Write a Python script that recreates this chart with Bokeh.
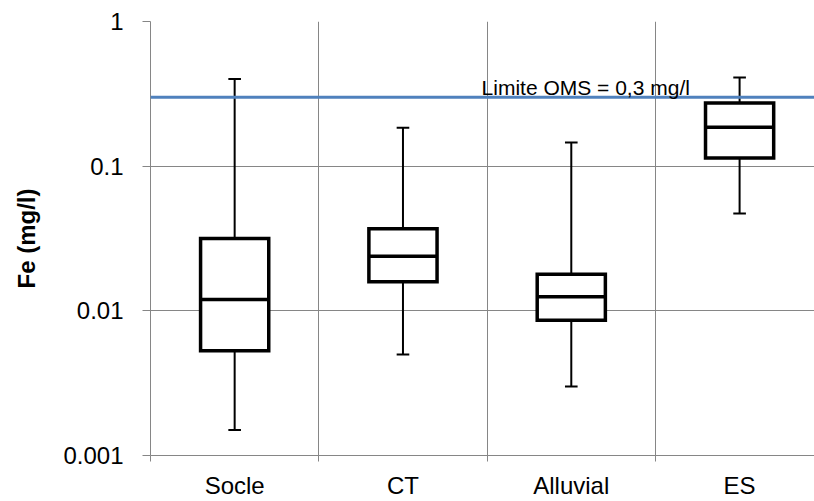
import numpy as np
from bokeh.plotting import figure
from bokeh.models import FixedTicker, Span, Label, Range1d
from bokeh.embed import file_html
from bokeh.resources import INLINE

# ---- data ----
categories = ["Socle", "CT", "Alluvial", "ES"]
whisker_low = [0.0015, 0.0050, 0.0030, 0.047]
q1 = [0.0053, 0.0159, 0.0086, 0.114]
median = [0.0120, 0.0238, 0.0125, 0.186]
q3 = [0.0316, 0.0370, 0.0179, 0.273]
whisker_high = [0.40, 0.184, 0.146, 0.41]
limit_value = 0.3
limit_text = "Limite OMS = 0,3 mg/l"
y_ticks = [0.001, 0.01, 0.1, 1]
y_tick_labels = ["0.001", "0.01", "0.1", "1"]
y_title = "Fe (mg/l)"

FONT = "Liberation Sans"
GRID = "#868686"

xpos = np.arange(len(categories)) + 0.5
box_w = 0.405
cap_w = 0.075

p = figure(width=814, height=501, y_axis_type="log",
           x_range=Range1d(0, 3.945), y_range=Range1d(0.001, 1),
           output_backend="svg", toolbar_location=None,
           min_border_left=150, min_border_right=0,
           min_border_top=21, min_border_bottom=44)
p.outline_line_color = None
p.background_fill_color = "white"

# x axis: labels at category centres, tick marks at boundaries
xa = p.xaxis[0]
xa.ticker = FixedTicker(ticks=list(xpos), minor_ticks=list(range(len(categories) + 1)))
xa.major_label_overrides = {float(x): c for x, c in zip(xpos, categories)}
xa.major_tick_line_color = None
xa.major_tick_out = 0
xa.major_tick_in = 0
xa.minor_tick_line_color = GRID
xa.minor_tick_out = 6
xa.minor_tick_in = 0
xa.minor_tick_line_width = 1
xa.axis_line_color = GRID
xa.axis_line_width = 1
xa.major_label_text_font = FONT
xa.major_label_text_font_size = "24px"
xa.major_label_text_color = "black"
xa.major_label_standoff = 10

p.xgrid.ticker = FixedTicker(ticks=list(range(len(categories) + 1)))
p.xgrid.grid_line_color = GRID
p.xgrid.grid_line_width = 1

ya = p.yaxis[0]
ya.ticker = FixedTicker(ticks=y_ticks)
ya.major_label_overrides = {float(t): l for t, l in zip(y_ticks, y_tick_labels)}
ya.major_tick_line_color = GRID
ya.major_tick_out = 8
ya.major_tick_in = 0
ya.minor_tick_line_color = None
ya.axis_line_color = GRID
ya.axis_line_width = 1
ya.major_label_text_font = FONT
ya.major_label_text_font_size = "24px"
ya.major_label_text_color = "black"
ya.major_label_standoff = 19
ya.axis_label = y_title
ya.axis_label_text_font = FONT
ya.axis_label_text_font_size = "24px"
ya.axis_label_text_font_style = "bold"
ya.axis_label_text_color = "black"
ya.axis_label_standoff = 20

p.ygrid.ticker = FixedTicker(ticks=y_ticks)
p.ygrid.grid_line_color = GRID
p.ygrid.grid_line_width = 1

# whiskers
p.segment(x0=xpos, y0=q3, x1=xpos, y1=whisker_high, line_color="black", line_width=2)
p.segment(x0=xpos, y0=whisker_low, x1=xpos, y1=q1, line_color="black", line_width=2)
p.segment(x0=xpos - cap_w / 2, y0=whisker_high, x1=xpos + cap_w / 2, y1=whisker_high,
          line_color="black", line_width=2)
p.segment(x0=xpos - cap_w / 2, y0=whisker_low, x1=xpos + cap_w / 2, y1=whisker_low,
          line_color="black", line_width=2)

# limit line
p.add_layout(Span(location=limit_value, dimension="width", line_color="#4F81BD", line_width=3))

# boxes
p.vbar(x=xpos, width=box_w, bottom=q1, top=q3, fill_color="white",
       line_color="black", line_width=3.5, line_join="miter")
p.segment(x0=xpos - box_w / 2, y0=median, x1=xpos + box_w / 2, y1=median,
          line_color="black", line_width=3.5)

p.add_layout(Label(x=1.967, y=0.35, text=limit_text, text_font=FONT,
                   text_font_size="21px", text_color="black",
                   text_baseline="alphabetic", text_align="left"))

open("out.html", "w").write(file_html(p, INLINE))
